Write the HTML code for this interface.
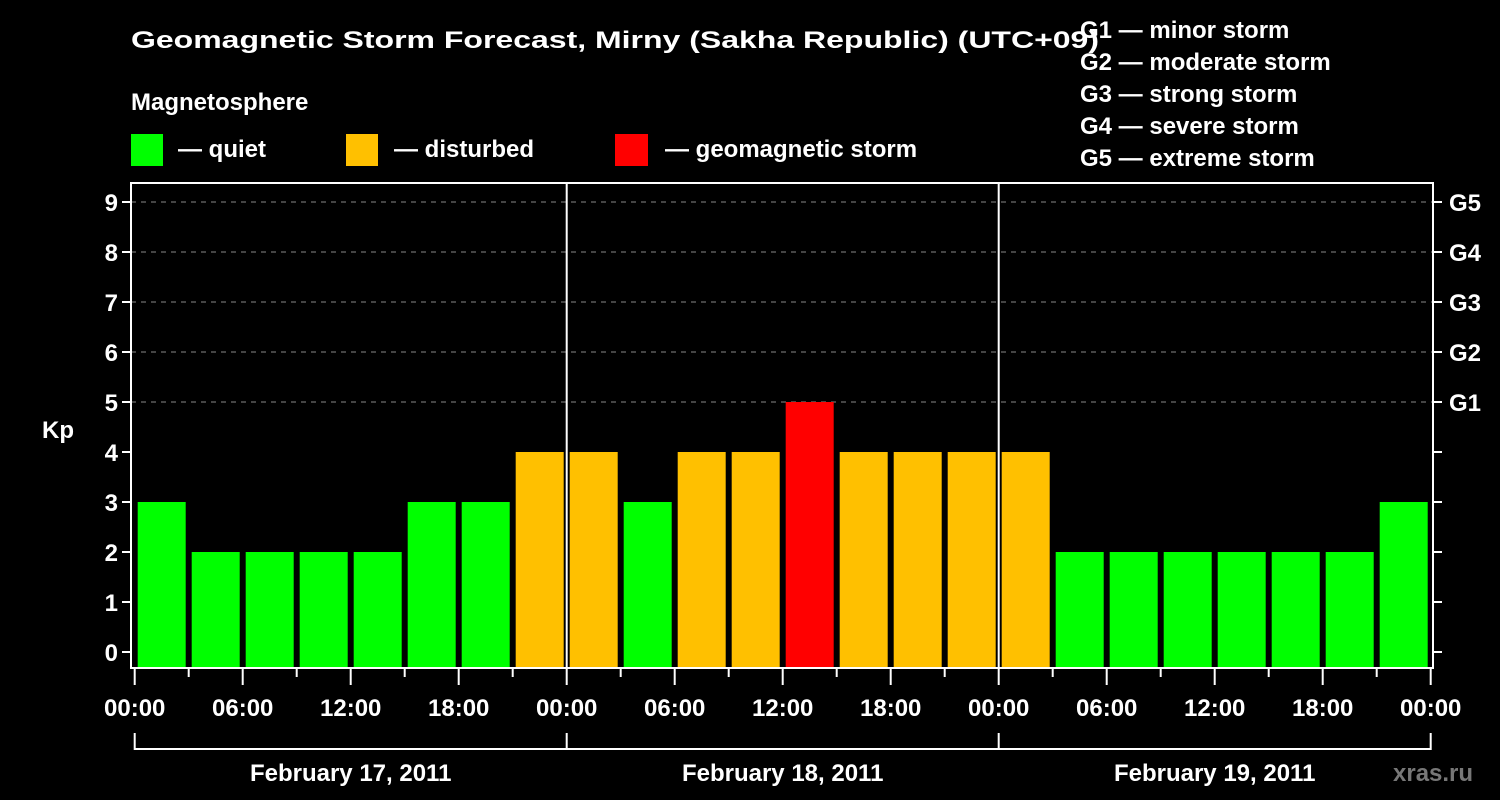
<!DOCTYPE html>
<html><head><meta charset="utf-8"><style>
html,body{margin:0;padding:0;background:#000;}
svg{display:block;font-family:"Liberation Sans",Arial,sans-serif;font-weight:bold;}
</style></head><body>
<svg id="chart" width="1500" height="800" xmlns="http://www.w3.org/2000/svg">
<rect width="1500" height="800" fill="#000"/>
<text x="131" y="48" fill="#fff" font-size="24" textLength="968" lengthAdjust="spacingAndGlyphs">Geomagnetic Storm Forecast, Mirny (Sakha Republic) (UTC+09)</text>
<text x="131" y="110" fill="#fff" font-size="24">Magnetosphere</text>
<rect x="131" y="134" width="32" height="32" fill="#00ff00"/>
<text x="178" y="157" fill="#fff" font-size="24">— quiet</text>
<rect x="346" y="134" width="32" height="32" fill="#ffc000"/>
<text x="394" y="157" fill="#fff" font-size="24">— disturbed</text>
<rect x="615" y="134" width="33" height="32" fill="#ff0000"/>
<text x="665" y="157" fill="#fff" font-size="24">— geomagnetic storm</text>
<g fill="#fff" font-size="24">
<text x="1080" y="38">G1 — minor storm</text>
<text x="1080" y="70">G2 — moderate storm</text>
<text x="1080" y="102">G3 — strong storm</text>
<text x="1080" y="134">G4 — severe storm</text>
<text x="1080" y="166">G5 — extreme storm</text>
</g>
<text x="42" y="438" fill="#fff" font-size="24">Kp</text>
<text x="1393" y="781" fill="#777" font-size="24">xras.ru</text>
<g id="grid"></g><g id="bars"></g><g id="axes"></g>
</svg>
<script>
const kpValues = [3,2,2,2,2,3,3,4, 4,3,4,4,5,4,4,4, 4,2,2,2,2,2,2,3];
const dayLabels = ["February 17, 2011","February 18, 2011","February 19, 2011"];
const hourLabels = ["00:00","06:00","12:00","18:00"];
const gLabels = ["G1","G2","G3","G4","G5"];
const yTicks = [0,1,2,3,4,5,6,7,8,9];

const NS="http://www.w3.org/2000/svg";
const X0=134.7, PXH=18, Y0=652, PXK=50, LEFT=131, RIGHT=1433, TOP=183, BOT=668;
const xs=h=>X0+h*PXH, ys=k=>Y0-k*PXK;
function mk(tag,attrs,parent){const e=document.createElementNS(NS,tag);for(const k in attrs)e.setAttribute(k,attrs[k]);parent.appendChild(e);return e;}
const grid=document.getElementById('grid'),bars=document.getElementById('bars'),axes=document.getElementById('axes');
yTicks.forEach(k=>{
  if(k>=5){const g=mk('line',{x1:LEFT,x2:RIGHT,y1:ys(k),y2:ys(k),stroke:'#888','stroke-dasharray':'5,5','stroke-width':1},grid);
  
  }
  const t=mk('line',{x1:LEFT-9,x2:LEFT,y1:ys(k),y2:ys(k),stroke:'#fff','stroke-width':2},axes);
  
  
  const t2=mk('line',{x1:RIGHT,x2:RIGHT+9,y1:ys(k),y2:ys(k),stroke:'#fff','stroke-width':2},axes);
  
  
  const l=mk('text',{x:118,y:ys(k)+9,fill:'#fff','font-size':24,'text-anchor':'end'},axes);
  l.textContent=k;
  
  
});
gLabels.forEach((g,i)=>{
  const l=mk('text',{x:1449,y:ys(5+i)+9,fill:'#fff','font-size':24},axes);
  l.textContent=g;
  
  
});
kpValues.forEach((v,i)=>{
  const c=v>=5?'#ff0000':(v>=4?'#ffc000':'#00ff00');
  const b=mk('rect',{x:xs(i*3)+3,y:ys(v),width:48,height:BOT-ys(v),fill:c},bars);
  
  
});
const frame=mk('rect',{x:LEFT,y:TOP,width:RIGHT-LEFT,height:BOT-TOP,fill:'none',stroke:'#fff','stroke-width':2},axes);


for(let d=1;d<3;d++){
  const s=mk('line',{x1:xs(d*24),x2:xs(d*24),y1:TOP,y2:BOT,stroke:'#fff','stroke-width':2},axes);
  
  
}
for(let h=0;h<=72;h+=3){
  const major=h%6===0;
  const t=mk('line',{x1:xs(h),x2:xs(h),y1:BOT,y2:major?685:677,stroke:'#fff','stroke-width':2},axes);
  
  
  if(major){
    const l=mk('text',{x:xs(h),y:716,fill:'#fff','font-size':24,'text-anchor':'middle'},axes);
    l.textContent=hourLabels[(h%24)/6];
    
    
  }
}
const br=mk('path',{d:`M${xs(0)},733 V749 H${xs(72)} V733 M${xs(24)},733 V749 M${xs(48)},733 V749`,stroke:'#fff','stroke-width':2,fill:'none'},axes);


dayLabels.forEach((d,i)=>{
  const l=mk('text',{x:xs(i*24+12),y:781,fill:'#fff','font-size':24,'text-anchor':'middle'},axes);
  l.textContent=d;
  
  
});
</script>
</body></html>
